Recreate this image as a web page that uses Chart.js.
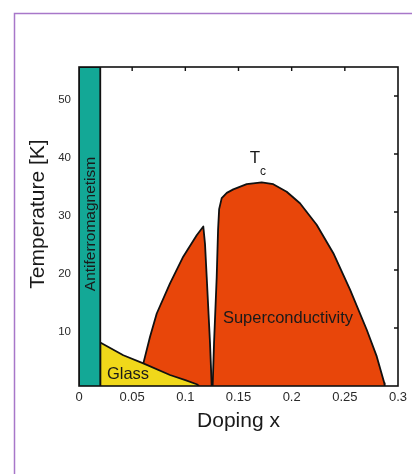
<!DOCTYPE html>
<html>
<head>
<meta charset="utf-8">
<script src="https://cdn.jsdelivr.net/npm/chart.js@4.4.1/dist/chart.umd.min.js"></script>
<style>
  html, body { margin: 0; padding: 0; background: #fff; }
  #wrap { width: 412px; height: 474px; position: relative; }
</style>
</head>
<body>
<div id="wrap"><canvas id="phase" width="412" height="474"></canvas></div>
<script>
// phase diagram outlines (x = doping, y = temperature K)
const afX = [0, 0, 0.02, 0.02];
const afT = [0, 55, 55, 0];

const glassX = [0.02, 0.02, 0.0417, 0.0605, 0.0856, 0.100, 0.1107, 0.113];
const glassT = [0, 7.5, 5.3, 3.9, 1.9, 1.0, 0.3, 0];

const scLeftX = [0.0605, 0.0668, 0.0731, 0.0856, 0.098, 0.1107, 0.1169, 0.1185, 0.1201, 0.1232, 0.1248];
const scLeftT = [3.9, 8.5, 12.5, 17.7, 22.3, 26.0, 27.5, 24.5, 18.8, 7.4, 0];

const scRightX = [0.1257, 0.127, 0.1295, 0.1308, 0.1318, 0.1342, 0.139, 0.1451, 0.1577, 0.1718, 0.1827,
  0.1953, 0.2078, 0.2235, 0.2392, 0.2549, 0.2706, 0.28, 0.2871, 0.2875];
const scRightT = [0, 7.4, 18.8, 27, 30.5, 32.4, 33.3, 33.9, 34.8, 35.1, 34.8,
  33.5, 31.5, 27.8, 22.9, 16.6, 9.7, 5.1, 0.5, 0];

const xTicks = [0, 0.05, 0.1, 0.15, 0.2, 0.25, 0.3];
const yTicks = [10, 20, 30, 40, 50];

const FONT = '"Liberation Sans", Arial, Helvetica, sans-serif';
const TEAL = '#13a896';
const ORANGE = '#e8460a';
const YELLOW = '#f0d81a';

function pts(xs, ys) {
    return xs.map((x, i) => ({ x: x, y: ys[i] }));
}

function region(data, color) {
    return {
        data: data,
        backgroundColor: color,
        borderColor: '#111',
        borderWidth: 1.8,
        fill: 'origin',
        pointRadius: 0,
        tension: 0,
        borderJoinStyle: 'round'
    };
}

// frame, box, inward ticks and the text labels
const decor = {
    id: 'decor',
    beforeDraw(chart) {
        const c = chart.ctx;
        c.save();
        c.strokeStyle = '#a877c9';
        c.lineWidth = 1.5;
        c.beginPath();
        c.moveTo(14.5, 474);
        c.lineTo(14.5, 13.5);
        c.lineTo(412, 13.5);
        c.stroke();
        c.restore();
    },
    afterDatasetsDraw(chart) {
        const c = chart.ctx;
        const a = chart.chartArea;
        const xs = chart.scales.x, ys = chart.scales.y;
        c.save();
        c.strokeStyle = '#111';
        c.lineWidth = 1.6;
        c.strokeRect(a.left, a.top, a.right - a.left, a.bottom - a.top);

        c.lineWidth = 1.4;
        c.beginPath();
        xTicks.slice(1, -1).forEach(v => {
            const px = xs.getPixelForValue(v);
            c.moveTo(px, a.top);
            c.lineTo(px, a.top + 4);
        });
        yTicks.forEach(v => {
            const py = ys.getPixelForValue(v);
            c.moveTo(a.right, py);
            c.lineTo(a.right - 4, py);
        });
        c.stroke();

        c.fillStyle = '#1a1a1a';
        c.textAlign = 'center';
        c.textBaseline = 'middle';

        c.font = '15.5px ' + FONT;
        c.save();
        c.translate((a.left + xs.getPixelForValue(0.02)) / 2 + 1, 224);
        c.rotate(-Math.PI / 2);
        c.fillText('Antiferromagnetism', 0, 0);
        c.restore();

        c.font = '16.5px ' + FONT;
        c.fillText('Glass', 128, 374);
        c.fillText('Superconductivity', 288, 318);

        c.font = '17px ' + FONT;
        c.fillText('T', 255, 158);
        c.font = '12px ' + FONT;
        c.fillText('c', 263, 172);

        c.font = '21px ' + FONT;
        c.fillText('Doping x', (a.left + a.right) / 2, 421);
        c.save();
        c.translate(38, 214);
        c.rotate(-Math.PI / 2);
        c.fillText('Temperature [K]', 0, 0);
        c.restore();
        c.restore();
    }
};

new Chart(document.getElementById('phase'), {
    type: 'line',
    data: {
        datasets: [
            region(pts(afX, afT), TEAL),
            region(pts(glassX, glassT), YELLOW),
            region(pts(scLeftX, scLeftT), ORANGE),
            region(pts(scRightX, scRightT), ORANGE)
        ]
    },
    options: {
        responsive: false,
        animation: false,
        layout: { padding: { left: 0, top: 67, right: 14, bottom: 0 } },
        plugins: { legend: { display: false }, tooltip: { enabled: false } },
        scales: {
            x: {
                type: 'linear',
                min: 0,
                max: 0.3,
                afterBuildTicks: s => { s.ticks = xTicks.map(v => ({ value: v })); },
                afterFit: s => { s.height = 88; },
                grid: { display: false, drawTicks: false },
                border: { display: false },
                ticks: {
                    padding: 4,
                    maxRotation: 0,
                    color: '#2a2a2a',
                    font: { family: FONT, size: 13 },
                    callback: v => String(v)
                }
            },
            y: {
                type: 'linear',
                min: 0,
                max: 55,
                afterBuildTicks: s => { s.ticks = yTicks.map(v => ({ value: v })); },
                afterFit: s => { s.width = 79; },
                grid: { display: false, drawTicks: false },
                border: { display: false },
                ticks: {
                    padding: 8,
                    labelOffset: 4,
                    color: '#2a2a2a',
                    font: { family: FONT, size: 11.5 }
                }
            }
        }
    },
    plugins: [decor]
});
</script>
</body>
</html>
